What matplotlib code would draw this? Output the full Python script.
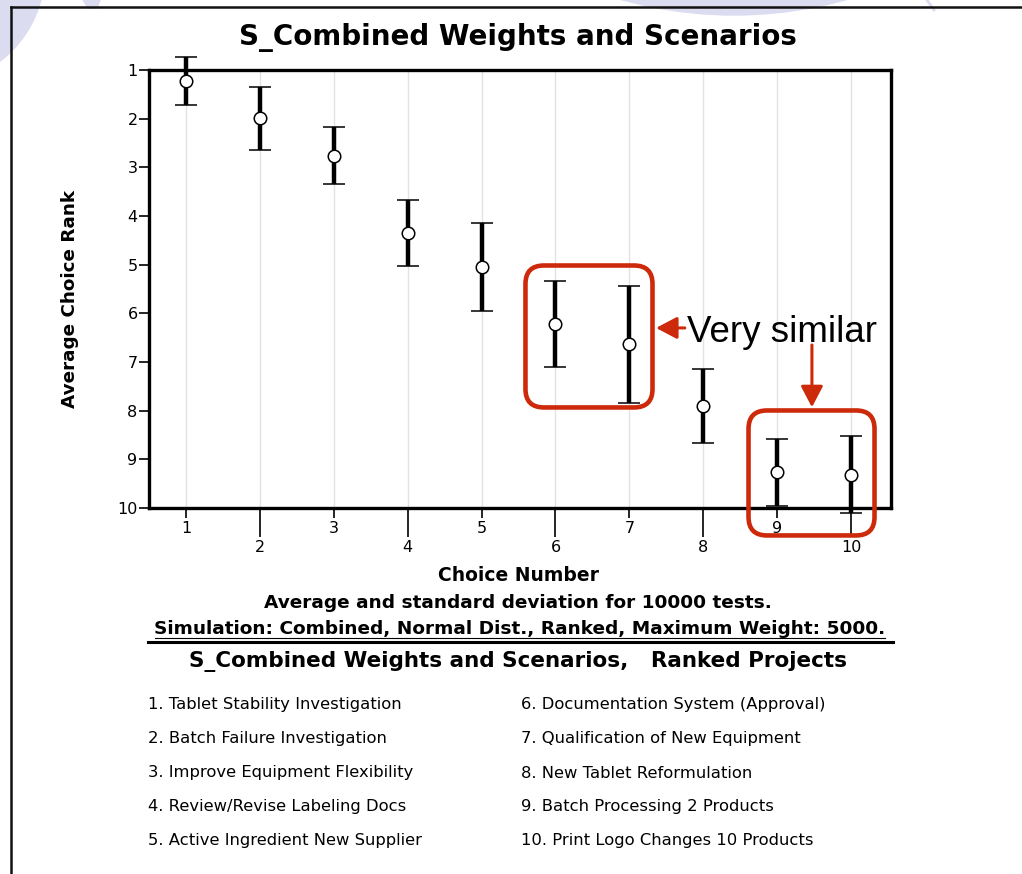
import numpy as np
import matplotlib
matplotlib.use("Agg")
import matplotlib.pyplot as plt
import matplotlib.transforms as mtransforms
from matplotlib.patches import FancyBboxPatch, Circle, Polygon
from matplotlib.lines import Line2D

# average rank and standard deviation per choice (10000 simulated tests)
choices = np.arange(1, 11)
avg_rank = [1.22, 1.99, 2.76, 4.35, 5.05, 6.22, 6.64, 7.91, 9.27, 9.32]
std_rank = [0.49, 0.65, 0.58, 0.68, 0.90, 0.89, 1.20, 0.76, 0.68, 0.79]
rank_ticks = list(range(1, 11))

projects = [
    "Tablet Stability Investigation",
    "Batch Failure Investigation",
    "Improve Equipment Flexibility",
    "Review/Revise Labeling Docs",
    "Active Ingredient New Supplier",
    "Documentation System (Approval)",
    "Qualification of New Equipment",
    "New Tablet Reformulation",
    "Batch Processing 2 Products",
    "Print Logo Changes 10 Products",
]

title = "S_Combined Weights and Scenarios"
note_lines = [
    "Average and standard deviation for 10000 tests.",
    "Simulation: Combined, Normal Dist., Ranked, Maximum Weight: 5000.",
]
list_title = "S_Combined Weights and Scenarios,   Ranked Projects"

RED = "#cc2a0a"
LAVENDER = "#dcdcf0"

W, H = 1022, 874
fig = plt.figure(figsize=(W / 100, H / 100), dpi=100)
fig.patch.set_facecolor("white")

# pixel-based transform for the page decoration (origin top-left)
px = mtransforms.Affine2D().scale(1 / W, -1 / H).translate(0, 1) + fig.transFigure

# slide background shapes
fig.patches.append(Circle((-70, -30), 115, transform=px, color=LAVENDER, zorder=0))
fig.patches.append(Circle((734, -403), 418, transform=px, color=LAVENDER, zorder=0))
fig.patches.append(Polygon([(83, 0), (100, 0), (97, 8), (88, 8)], closed=True,
                           transform=px, color=LAVENDER, zorder=0))
fig.lines.append(Line2D([927, 934], [0, 10], transform=px, color=LAVENDER, lw=2, zorder=0))

# page frame
fig.lines.append(Line2D([11, 11], [7, H], transform=px, color="#111111", lw=1.8))
fig.lines.append(Line2D([11, W], [7, 7], transform=px, color="#111111", lw=1.8))

ax = fig.add_axes([149 / W, 1 - 508 / H, (891 - 149) / W, (508 - 70) / H])

ax.errorbar(choices, avg_rank, yerr=std_rank, fmt="o", color="black",
            ecolor="black", elinewidth=3.2, capsize=8.2, capthick=2.0,
            markersize=9, markerfacecolor="white", markeredgecolor="black",
            markeredgewidth=1.1, zorder=3, clip_on=False)

ax.set_xlim(0.5, 10.54)
ax.set_ylim(10, 1)

odd = [c for c in choices if c % 2 == 1]
even = [c for c in choices if c % 2 == 0]
ax.set_xticks(odd, labels=[str(c) for c in odd])
ax.set_xticks(even, labels=[str(c) for c in even], minor=True)
ax.set_yticks(rank_ticks, labels=[str(r) for r in rank_ticks])

ax.tick_params(axis="x", which="major", length=7.2, width=1.2, pad=2, labelsize=11.5)
ax.tick_params(axis="x", which="minor", length=21, width=1.2, pad=2, labelsize=11.5)
ax.tick_params(axis="y", length=7.2, width=1.2, pad=1, labelsize=11.5)

ax.grid(axis="x", which="both", color="#e2e2e2", lw=1.0)
ax.set_axisbelow(True)
for sp in ax.spines.values():
    sp.set_linewidth(2.4)

ax.set_xlabel("Choice Number", fontsize=13.5, fontweight="bold")
ax.xaxis.set_label_coords((518 - 149) / 742, -(581 - 508) / 438)
ax.xaxis.label.set_va("baseline")
ax.set_ylabel("Average Choice Rank", fontsize=13.2, fontweight="bold")
ax.yaxis.set_label_coords((70 - 149) / 742, 1 - (299 - 70) / 438)
ax.yaxis.label.set_va("center")

# highlight boxes around the pairs that overlap
boxes = [(5.594, 5.017, 7.313, 7.934), (8.612, 7.996, 10.317, 10.564)]
for x0, y0, x1, y1 in boxes:
    ax.add_patch(FancyBboxPatch((x0, y0), x1 - x0, y1 - y0,
                                boxstyle="round,pad=0,rounding_size=0.25",
                                mutation_aspect=73.9 / 48.67,
                                fill=False, ec=RED, lw=3.3, clip_on=False, zorder=4))

arrow_style = dict(arrowstyle="-|>,head_length=0.8,head_width=0.42",
                   mutation_scale=16, color=RED, lw=2.2, shrinkA=0, shrinkB=0)
ax.annotate("", xy=(7.36, 6.30), xytext=(7.75, 6.30), arrowprops=arrow_style,
            annotation_clip=False)
ax.annotate("", xy=(9.47, 7.93), xytext=(9.47, 6.65), arrowprops=arrow_style,
            annotation_clip=False)
ax.text(7.78, 6.58, "Very similar", fontsize=26.5, family="Liberation Sans",
        va="baseline", ha="left", clip_on=False)

fig.text(518 / W, 1 - 45 / H, title, fontsize=20, fontweight="bold",
         ha="center", va="baseline")

fig.text(518 / W, 1 - 608 / H, note_lines[0], fontsize=13.3, fontweight="bold",
         ha="center", va="baseline")
fig.text(520 / W, 1 - 634 / H, note_lines[1], fontsize=13.3, fontweight="bold",
         ha="center", va="baseline")
fig.lines.append(Line2D([155, 885], [637.5, 637.5], transform=px, color="black", lw=0.8))
fig.lines.append(Line2D([148, 893], [642, 642], transform=px, color="black", lw=2.2))
fig.text(518 / W, 1 - 667 / H, list_title, fontsize=15.5, fontweight="bold",
         ha="center", va="baseline")

rows = [705, 739, 773, 807, 841]
for i, name in enumerate(projects):
    col_x = 148 if i < 5 else 521
    fig.text(col_x / W, 1 - rows[i % 5] / H, f"{i + 1}. {name}", fontsize=11.8,
             ha="left", va="center")

fig.savefig("out.png", dpi=100)
